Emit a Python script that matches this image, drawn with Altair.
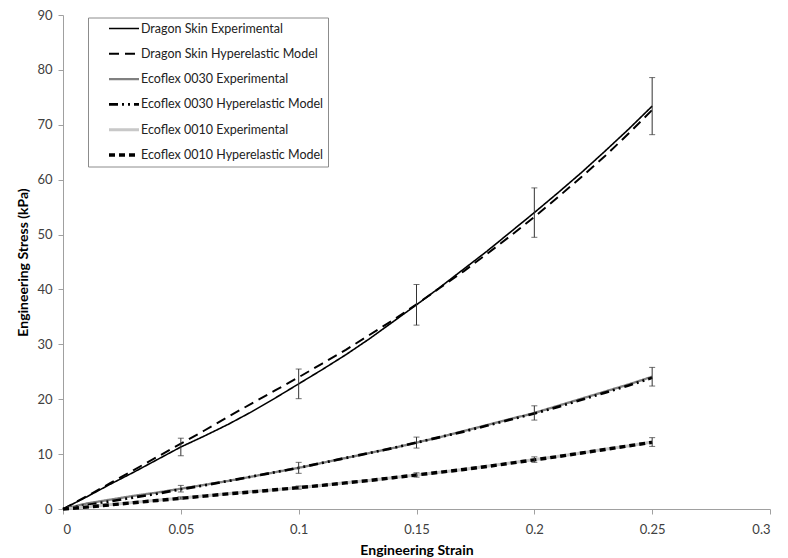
import altair as alt
import pandas as pd

SERIES = [
    "Dragon Skin Experimental",
    "Dragon Skin Hyperelastic Model",
    "Ecoflex 0030 Experimental",
    "Ecoflex 0030 Hyperelastic Model",
    "Ecoflex 0010 Experimental",
    "Ecoflex 0010 Hyperelastic Model",
]

STRAIN = [0.00, 0.01, 0.02, 0.03, 0.04, 0.05, 0.06, 0.07, 0.08, 0.09, 0.10,
          0.11, 0.12, 0.13, 0.14, 0.15, 0.16, 0.17, 0.18, 0.19, 0.20,
          0.21, 0.22, 0.23, 0.24, 0.25]

DS_EXP = [0, 2.2, 4.5, 6.7, 9.0, 11.3, 13.3, 15.4, 17.7, 20.2, 22.8,
          25.4, 28.1, 31.0, 34.1, 37.2, 40.4, 43.7, 47.0, 50.5, 54.0,
          57.6, 61.3, 65.2, 69.2, 73.4]
DS_MOD = [0, 2.3, 4.7, 7.1, 9.5, 11.9, 14.3, 16.8, 19.2, 21.6, 24.0,
          26.5, 29.0, 31.7, 34.4, 37.3, 40.3, 43.3, 46.5, 49.8, 53.2,
          56.8, 60.5, 64.3, 68.4, 72.7]
E30_EXP = [0, 1.0, 1.7, 2.4, 3.0, 3.7, 4.4, 5.1, 5.9, 6.7, 7.5,
           8.4, 9.3, 10.2, 11.1, 12.1, 13.1, 14.2, 15.3, 16.4, 17.5,
           18.8, 20.1, 21.4, 22.7, 24.1]
E30_MOD = [0, 0.7, 1.4, 2.1, 2.8, 3.6, 4.3, 5.1, 5.9, 6.7, 7.5,
           8.4, 9.3, 10.2, 11.1, 12.1, 13.1, 14.1, 15.2, 16.3, 17.4,
           18.6, 19.9, 21.2, 22.5, 23.9]
E10_EXP = [0, 0.4, 0.8, 1.2, 1.6, 2.0, 2.4, 2.8, 3.2, 3.5, 3.9,
           4.3, 4.8, 5.2, 5.7, 6.2, 6.7, 7.2, 7.8, 8.4, 9.0,
           9.6, 10.2, 10.9, 11.5, 12.2]
E10_MOD = [0, 0.35, 0.75, 1.15, 1.55, 1.95, 2.35, 2.75, 3.1, 3.5, 3.9,
           4.3, 4.75, 5.2, 5.7, 6.2, 6.7, 7.2, 7.75, 8.35, 8.95,
           9.55, 10.2, 10.85, 11.5, 12.15]

# error bars (experimental means +/- SD)
ERR_STRAIN = [0.05, 0.10, 0.15, 0.20, 0.25]
DS_MEAN = [11.3, 22.8, 37.2, 54.0, 73.4]
DS_SD = [1.6, 2.7, 3.7, 4.5, 5.2]
E30_MEAN = [3.7, 7.5, 12.1, 17.5, 24.1]
E30_SD = [0.6, 1.0, 1.0, 1.3, 1.7]
E10_MEAN = [2.0, 3.9, 6.2, 9.0, 12.2]
E10_SD = [0.2, 0.3, 0.4, 0.5, 0.8]

X_TICKS = [0, 0.05, 0.1, 0.15, 0.2, 0.25, 0.3]
Y_TICKS = [0, 10, 20, 30, 40, 50, 60, 70, 80, 90]

COLORS = ["#000000", "#000000", "#808080", "#000000", "#c8c8c8", "#000000"]
DASHES = [[1, 0], [10, 6], [1, 0], [9, 4, 2, 4, 2, 4], [1, 0], [6, 4]]
WIDTHS = [1.6, 3.4, 3.0, 1.6, 1.0, 1.8]

curves = [DS_EXP, DS_MOD, E30_EXP, E30_MOD, E10_EXP, E10_MOD]
rows = []
for name, vals in zip(SERIES, curves):
    for s, v in zip(STRAIN, vals):
        rows.append({"series": name, "strain": s, "stress": v})
df = pd.DataFrame(rows)

erows = []
for means, sds in [(DS_MEAN, DS_SD), (E30_MEAN, E30_SD), (E10_MEAN, E10_SD)]:
    for s, m, d in zip(ERR_STRAIN, means, sds):
        erows.append({"strain": s, "lo": m - d, "hi": m + d})
edf = pd.DataFrame(erows)
caps = pd.concat([
    edf[["strain"]].assign(v=edf["lo"]),
    edf[["strain"]].assign(v=edf["hi"]),
])

xscale = alt.Scale(domain=[0, 0.3], nice=False)
yscale = alt.Scale(domain=[0, 90], nice=False)

xaxis = alt.Axis(values=X_TICKS, format="~g", title="Engineering Strain",
                 titlePadding=7)
yaxis = alt.Axis(values=Y_TICKS, title="Engineering Stress (kPa)",
                 titlePadding=6)

lines = alt.Chart(df).mark_line().encode(
    x=alt.X("strain:Q", scale=xscale, axis=xaxis),
    y=alt.Y("stress:Q", scale=yscale, axis=yaxis),
    color=alt.Color("series:N", title=None,
                    scale=alt.Scale(domain=SERIES, range=COLORS)),
    strokeDash=alt.StrokeDash("series:N", title=None,
                              scale=alt.Scale(domain=SERIES, range=DASHES)),
    strokeWidth=alt.StrokeWidth("series:N", title=None,
                                scale=alt.Scale(domain=SERIES, range=WIDTHS)),
    order=alt.Order("strain:Q"),
)

bars = alt.Chart(edf).mark_rule(color="#333333", strokeWidth=1).encode(
    x=alt.X("strain:Q", scale=xscale),
    y=alt.Y("lo:Q", scale=yscale),
    y2="hi:Q",
)
capmarks = alt.Chart(caps).mark_tick(color="#333333", thickness=1, size=6,
                                     orient="horizontal").encode(
    x=alt.X("strain:Q", scale=xscale),
    y=alt.Y("v:Q", scale=yscale),
)

chart = alt.layer(lines, bars, capmarks).properties(
    width=707, height=494,
    autosize=alt.AutoSizeParams(type="none"),
    padding={"left": 55, "top": 7, "right": 10, "bottom": 50},
).configure_view(stroke=None).configure_axis(
    grid=False,
    domainColor="#a0a0a0",
    tickColor="#a0a0a0",
    tickSize=5,
    labelColor="#404040",
    labelFont="Lato",
    labelFontSize=13,
    titleFont="Lato",
    titleFontSize=14,
    titleFontWeight="bold",
    titleColor="#000000",
).configure_axisX(labelPadding=9).configure_axisY(labelPadding=6).configure_legend(
    orient="none",
    legendX=25,
    legendY=2.5,
    symbolType="stroke",
    symbolSize=900,
    clipHeight=14,
    rowPadding=11.3,
    padding=4,
    symbolOffset=15,
    labelOffset=0,
    strokeColor="#8c8c8c",
    fillColor="#ffffff",
    labelFont="Lato",
    labelFontSize=12.5,
    labelColor="#222222",
    labelLimit=300,
)

chart.save("out.html", embed_options={"renderer": "svg", "actions": False})
